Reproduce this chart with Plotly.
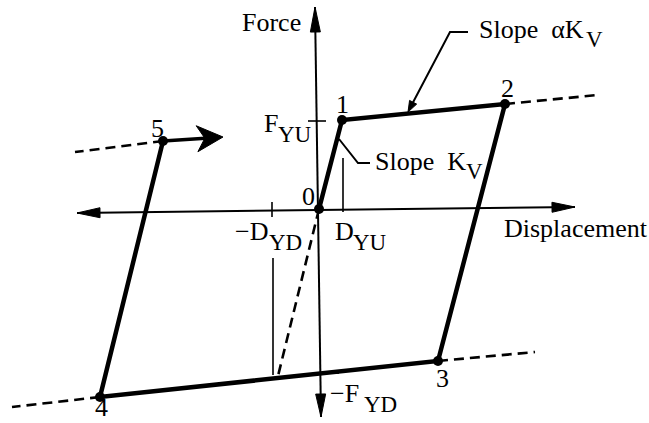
import math
import plotly.graph_objects as go

# Bilinear hysteresis loop: origin, then the numbered turning points 1..5
point_labels = ["0", "1", "2", "3", "4", "5"]
loop_disp = [0, 23, 186, 119, -219, -156]
loop_force = [0, 89, 105, -152, -188, 68]

# Reloading continues from point 5 in the positive direction
continue_disp = -96
continue_force = 72

# Dashed extensions of the post-yield branches (start index, end point)
ext_from = [2, 3, 4, 5, 0]
ext_disp = [279, 216, -307, -244, -41]
ext_force = [114, -143, -198, 57, -167]

# Yield quantities marked on the axes
d_yu = 24
d_yd = -46
f_yu = 88
f_yd = -165

# Axis end points (displacement axis, force axis)
axis_x_disp = [-242, 256]
axis_x_force = [-4, 2]
axis_y_disp = [-4, 2]
axis_y_force = [202, -208]

FONT = "Liberation Serif"
BIG = 26
SUB = 23

fig = go.Figure()


def line(xs, ys, width, dash=None):
    fig.add_trace(go.Scatter(
        x=xs, y=ys, mode="lines", hoverinfo="skip", showlegend=False,
        line=dict(color="black", width=width, dash=dash),
    ))


def head(tip, tail, length, half, notch=0.0):
    dx, dy = tip[0] - tail[0], tip[1] - tail[1]
    n = math.hypot(dx, dy)
    ux, uy = dx / n, dy / n
    px, py = -uy, ux
    bx, by = tip[0] - ux * length, tip[1] - uy * length
    mx, my = tip[0] - ux * length * (1 - notch), tip[1] - uy * length * (1 - notch)
    xs = [tip[0], bx + px * half, mx, bx - px * half, tip[0]]
    ys = [tip[1], by + py * half, my, by - py * half, tip[1]]
    fig.add_trace(go.Scatter(
        x=xs, y=ys, mode="lines", fill="toself", fillcolor="black",
        line=dict(color="black", width=1), hoverinfo="skip", showlegend=False,
    ))


# Axes with arrowheads at both ends
line(axis_x_disp, axis_x_force, 2)
line(axis_y_disp, axis_y_force, 2)
head((axis_x_disp[1], axis_x_force[1]), (axis_x_disp[0], axis_x_force[0]), 23, 5)
head((axis_x_disp[0], axis_x_force[0]), (axis_x_disp[1], axis_x_force[1]), 23, 5)
head((axis_y_disp[0], axis_y_force[0]), (axis_y_disp[1], axis_y_force[1]), 25, 5)
head((axis_y_disp[1], axis_y_force[1]), (axis_y_disp[0], axis_y_force[0]), 23, 5)

# Yield markers
line([d_yu, d_yu], [51, -3], 1.6)
line([d_yd - 1, d_yd - 1], [7, -8], 1.6)
line([d_yd, d_yd], [-49, f_yd - 1], 1.6)
line([-11, 7], [f_yu, f_yu], 1.6)
line([0, 20], [f_yd + 1, f_yd + 1], 1.6)

# Dashed branch extensions
for i, ex, ey in zip(ext_from, ext_disp, ext_force):
    line([loop_disp[i], ex], [loop_force[i], ey], 2.6, dash="10px,6px")

# Loop path
line(loop_disp, loop_force, 4.5)
line([loop_disp[5], continue_disp - 10], [loop_force[5], continue_force - 0.7], 3.5)
head((continue_disp, continue_force), (loop_disp[5], loop_force[5]), 26, 13, notch=0.3)

# Turning points
fig.add_trace(go.Scatter(
    x=loop_disp, y=loop_force, mode="markers", hoverinfo="skip", showlegend=False,
    marker=dict(color="black", size=10),
))

# Slope leaders
line([149, 131, 90], [177, 177, 99], 2)
head((89, 97), (131, 177), 11, 4)
line([20, 39, 51], [70, 46, 46], 2)


def text(s, x, y, size=BIG, xanchor="left"):
    fig.add_annotation(
        x=x, y=y, text=s, showarrow=False, xanchor=xanchor, yanchor="middle",
        font=dict(family=FONT, size=size, color="black"),
    )


text("Force", -47.5, 186.5, xanchor="center")
text("Displacement", 183, -19.5)
text("Slope\u00a0\u00a0\u03b1K", 158, 179.5)
text("V", 265, 169.5, SUB)
text("Slope\u00a0\u00a0K", 54, 47.5)
text("V", 145, 37.5, SUB)
text("F", -57, 85.5)
text("YU", -43, 74.5, SUB)
text("D", 14, -22.5)
text("YU", 32, -33.5, SUB)
text("\u2212D", -86, -22.5)
text("YD", -52, -33.5, SUB)
text("\u2212F", 9, -184.5)
text("YD", 43, -195, SUB)

label_pos = [(-11, 12.5), (23, 105), (188, 121), (123, -169), (-218, -198), (-162, 81)]
for lab, (lx, ly) in zip(point_labels, label_pos):
    text(lab, lx, ly, xanchor="center")

fig.update_layout(
    width=649, height=423,
    margin=dict(l=0, r=0, t=0, b=0),
    paper_bgcolor="white", plot_bgcolor="white",
    xaxis=dict(range=[-319, 330], visible=False, fixedrange=True),
    yaxis=dict(range=[-214, 209], visible=False, fixedrange=True),
)

fig.write_html("out.html")
